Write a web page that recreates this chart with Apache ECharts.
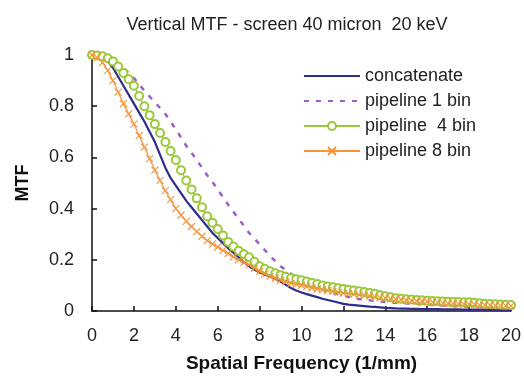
<html>
<head>
<meta charset="utf-8">
<script src="https://cdn.jsdelivr.net/npm/echarts@6/dist/echarts.min.js"></script>
<style>
  body { margin: 0; background: #fff; }
</style>
</head>
<body>
<div id="main" style="width:524px;height:378px;"></div>
<script>
// spatial frequency (1/mm), sampled every 0.25
var freq = [0,0.25,0.5,0.75, 1,1.25,1.5,1.75, 2,2.25,2.5,2.75, 3,3.25,3.5,3.75, 4,4.25,4.5,4.75,
            5,5.25,5.5,5.75, 6,6.25,6.5,6.75, 7,7.25,7.5,7.75, 8,8.25,8.5,8.75, 9,9.25,9.5,9.75,
            10,10.25,10.5,10.75, 11,11.25,11.5,11.75, 12,12.25,12.5,12.75, 13,13.25,13.5,13.75,
            14,14.25,14.5,14.75, 15,15.25,15.5,15.75, 16,16.25,16.5,16.75, 17,17.25,17.5,17.75,
            18,18.25,18.5,18.75, 19,19.25,19.5,19.75, 20];

var concatenate = [1.0,0.998,0.99,0.975, 0.95,0.915,0.88,0.845, 0.81,0.775,0.74,0.70, 0.66,0.61,0.56,0.52,
                   0.49,0.46,0.43,0.405, 0.38,0.355,0.33,0.305, 0.285,0.265,0.245,0.228, 0.21,0.19,0.175,0.162,
                   0.15,0.142,0.135,0.125, 0.115,0.102,0.09,0.08, 0.072,0.066,0.06,0.054, 0.048,0.043,0.038,0.033,
                   0.028,0.025,0.023,0.021, 0.019,0.017,0.016,0.014, 0.012,0.011,0.01,0.0095, 0.009,0.0085,0.008,0.0075,
                   0.007,0.007,0.007,0.0065, 0.006,0.006,0.006,0.0055, 0.005,0.005,0.005,0.005, 0.005,0.0045,0.004,0.004, 0.004];
var pipeline1 = [1.0,0.998,0.995,0.987, 0.975,0.963,0.95,0.93, 0.91,0.885,0.86,0.838, 0.815,0.793,0.77,0.74,
                 0.71,0.678,0.645,0.618, 0.59,0.56,0.53,0.503, 0.475,0.445,0.415,0.388, 0.36,0.333,0.305,0.283,
                 0.26,0.238,0.215,0.195, 0.175,0.16,0.145,0.132, 0.12,0.11,0.10,0.092, 0.085,0.077,0.07,0.065,
                 0.06,0.055,0.05,0.047, 0.045,0.042,0.04,0.037, 0.035,0.033,0.032,0.031, 0.03,0.028,0.027,0.026,
                 0.025,0.023,0.022,0.021, 0.02,0.019,0.018,0.017, 0.016,0.015,0.015,0.014, 0.013,0.012,0.012,0.011, 0.01];
var pipeline4 = [1.0,0.998,0.995,0.987, 0.975,0.955,0.93,0.905, 0.88,0.84,0.80,0.765, 0.73,0.695,0.66,0.625,
                 0.59,0.55,0.51,0.475, 0.44,0.405,0.37,0.345, 0.32,0.295,0.27,0.252, 0.235,0.222,0.21,0.192,
                 0.175,0.165,0.155,0.147, 0.14,0.134,0.128,0.124, 0.12,0.115,0.11,0.105, 0.10,0.096,0.093,0.089,
                 0.086,0.083,0.08,0.077, 0.074,0.07,0.067,0.062, 0.058,0.054,0.05,0.048, 0.046,0.045,0.043,0.042,
                 0.04,0.039,0.038,0.037, 0.036,0.035,0.035,0.034, 0.034,0.032,0.03,0.028, 0.027,0.026,0.025,0.024, 0.023];
var pipeline8 = [1.0,0.99,0.97,0.94, 0.90,0.855,0.81,0.77, 0.73,0.685,0.64,0.595, 0.55,0.51,0.47,0.435,
                 0.40,0.375,0.35,0.33, 0.31,0.292,0.275,0.262, 0.25,0.237,0.225,0.212, 0.20,0.19,0.18,0.167,
                 0.155,0.145,0.135,0.127, 0.12,0.114,0.108,0.104, 0.10,0.095,0.09,0.086, 0.083,0.08,0.077,0.073,
                 0.07,0.068,0.066,0.063, 0.061,0.058,0.055,0.052, 0.05,0.048,0.046,0.044, 0.042,0.04,0.039,0.037,
                 0.036,0.034,0.033,0.031, 0.03,0.029,0.028,0.027, 0.026,0.025,0.024,0.023, 0.022,0.021,0.021,0.02, 0.02];

function pairs(ys) {
  return freq.map(function (f, i) { return [f, ys[i]]; });
}

var font = "'Liberation Sans', Arial, sans-serif";
var chart = echarts.init(document.getElementById('main'));

chart.setOption({
  animation: false,
  title: {
    text: 'Vertical MTF - screen 40 micron  20 keV',
    left: 282, top: 11, textAlign: 'center',
    textStyle: { fontFamily: font, fontSize: 18, fontWeight: 'normal', color: '#222' }
  },
  legend: {
    orient: 'vertical',
    left: 298, top: 62,
    itemWidth: 56, itemHeight: 10, itemGap: 7,
    textStyle: { fontFamily: font, fontSize: 18, color: '#222' },
    data: [
      { name: 'concatenate', itemStyle: { opacity: 0 } },
      { name: 'pipeline 1 bin', itemStyle: { opacity: 0 } },
      'pipeline  4 bin',
      'pipeline 8 bin'
    ]
  },
  grid: { left: 92, right: 12, top: 55, bottom: 64 },
  xAxis: {
    type: 'value', min: 0, max: 20, interval: 2,
    name: 'Spatial Frequency (1/mm)', nameLocation: 'middle', nameGap: 43,
    nameTextStyle: { fontFamily: font, fontSize: 19, fontWeight: 'bold', color: '#111' },
    axisLine: { lineStyle: { color: '#111', width: 1.5 } },
    axisTick: { inside: true, length: 5, lineStyle: { color: '#111', width: 1.5 } },
    axisLabel: { fontFamily: font, fontSize: 18, color: '#222', margin: 16 },
    splitLine: { show: false }
  },
  yAxis: {
    type: 'value', min: 0, max: 1, interval: 0.2,
    name: 'MTF', nameLocation: 'middle', nameGap: 60, nameRotate: 90,
    nameTextStyle: { fontFamily: font, fontSize: 18, fontWeight: 'bold', color: '#111' },
    axisLine: { show: true, lineStyle: { color: '#111', width: 1.5 } },
    axisTick: { show: true, inside: true, length: 5, lineStyle: { color: '#111', width: 1.5 } },
    axisLabel: { fontFamily: font, fontSize: 18, color: '#222', margin: 18 },
    splitLine: { show: false }
  },
  series: [
    {
      name: 'concatenate', type: 'line', data: pairs(concatenate),
      showSymbol: false, symbol: 'none', z: 3,
      lineStyle: { color: '#2e2c8c', width: 2.2 },
      itemStyle: { color: '#2e2c8c' }
    },
    {
      name: 'pipeline 1 bin', type: 'line', data: pairs(pipeline1),
      showSymbol: false, symbol: 'none',
      lineStyle: { color: '#9b5fc9', width: 2.5, type: [5, 7] },
      itemStyle: { color: '#9b5fc9' }
    },
    {
      name: 'pipeline  4 bin', type: 'line', data: pairs(pipeline4),
      symbol: 'emptyCircle', symbolSize: 8, showAllSymbol: true,
      lineStyle: { color: '#9bc93a', width: 1.2 },
      itemStyle: { color: '#9bc93a', borderWidth: 1.2 }
    },
    {
      name: 'pipeline 8 bin', type: 'line', data: pairs(pipeline8),
      symbol: 'path://M0,0L10,10M0,10L10,0', symbolSize: 7, showAllSymbol: true,
      lineStyle: { color: '#f7943a', width: 1.2 },
      itemStyle: { color: 'none', borderColor: '#f7943a', borderWidth: 1.2 }
    }
  ]
});
</script>
</body>
</html>
